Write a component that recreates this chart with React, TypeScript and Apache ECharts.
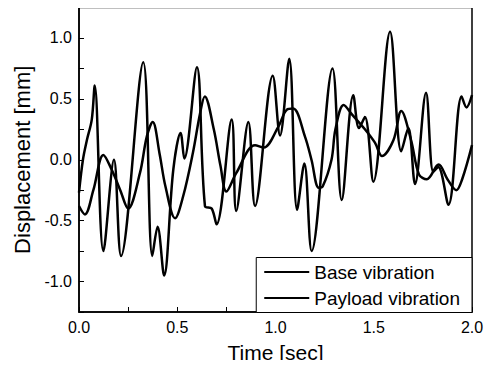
import React, { useEffect, useRef } from "react";
import * as echarts from "echarts";

const seriesNames = ["Base vibration", "Payload vibration"];

const baseTime = [
  0.0, 0.02, 0.04, 0.065, 0.08, 0.124, 0.178, 0.214, 0.327, 0.373, 0.4, 0.433,
  0.48, 0.517, 0.536, 0.6, 0.641, 0.675, 0.7, 0.777, 0.8, 0.862, 0.896, 0.986,
  1.023, 1.07, 1.11, 1.147, 1.184, 1.29, 1.337, 1.396, 1.425, 1.455, 1.498,
  1.583, 1.64, 1.676, 1.71, 1.766, 1.803, 1.828, 1.88, 1.947, 1.972, 2.0,
];
const baseValue = [
  -0.27, 0.0, 0.16, 0.33, 0.61, -0.75, 0.0, -0.79, 0.8, -0.79, -0.55, -0.95,
  -0.08, 0.22, 0.01, 0.76, -0.38, -0.4, -0.53, 0.33, -0.42, 0.31, -0.38, 0.69,
  0.2, 0.83, -0.41, -0.03, -0.75, 0.75, -0.33, 0.53, 0.26, 0.35, -0.18,
  1.05, 0.07, 0.26, -0.2, 0.55, -0.1, -0.06, -0.37, 0.52, 0.43, 0.53,
];

const payloadTime = [
  0.0, 0.03, 0.073, 0.124, 0.166, 0.21, 0.25, 0.31, 0.345, 0.375, 0.41, 0.44,
  0.489, 0.53, 0.58, 0.616, 0.64, 0.686, 0.72, 0.75, 0.8, 0.896, 0.94, 1.014,
  1.057, 1.09, 1.15, 1.183, 1.22, 1.24, 1.285, 1.305, 1.347, 1.39, 1.455,
  1.506, 1.542, 1.6, 1.64, 1.69, 1.73, 1.77, 1.83, 1.875, 1.92, 1.95, 2.0,
];
const payloadValue = [
  -0.38, -0.45, -0.25, 0.04, -0.08, -0.25, -0.4, -0.11, 0.19, 0.31, 0.05, -0.22,
  -0.48, -0.3, 0.06, 0.38, 0.52, 0.25, -0.05, -0.26, -0.11, 0.12, 0.1, 0.27,
  0.41, 0.42, 0.19, 0.0, -0.23, -0.22, 0.0, 0.25, 0.45, 0.37, 0.25,
  0.14, 0.03, 0.16, 0.4, 0.16, -0.12, -0.16, -0.04, -0.16, -0.25, -0.16, 0.12,
];

const xTicksMin = 0;
const xTicksMax = 2;
const yTicksMin = -1.25;
const yTicksMax = 1.25;

const FONT = "Liberation Sans, Arial, Helvetica, sans-serif";

const isHalf = (v: number) => Math.abs(v * 2 - Math.round(v * 2)) < 1e-6;

export default function App() {
  const ref = useRef<HTMLDivElement>(null);
  useEffect(() => {
    if (!ref.current) return;
    const chart = echarts.init(ref.current, null, { renderer: "svg" });
    const pair = (t: number[], v: number[]) => t.map((x, i) => [x, v[i]]);
    chart.setOption({
      animation: false,
      backgroundColor: "#fff",
      grid: {
        left: 79,
        right: 20,
        top: 7.5,
        bottom: 55.5,
        show: true,
        borderColor: "#000",
        borderWidth: 1.5,
      },
      legend: {
        orient: "vertical",
        right: 20,
        bottom: 55.5,
        backgroundColor: "#fff",
        borderColor: "#000",
        borderWidth: 1,
        padding: [5, 12, 5, 8],
        itemGap: 7,
        itemWidth: 45,
        itemHeight: 14,
        icon: "path://M0,6 L45,6 L45,8 L0,8 Z",
        textStyle: { fontFamily: FONT, fontSize: 19, color: "#000", padding: [0, 0, 0, 0] },
        itemStyle: { color: "#000" },
        data: seriesNames,
      },
      xAxis: {
        type: "value",
        min: xTicksMin,
        max: xTicksMax,
        interval: 0.25,
        name: "Time [sec]",
        nameLocation: "middle",
        nameGap: 30,
        nameTextStyle: { fontFamily: FONT, fontSize: 21, color: "#000" },
        axisLine: { onZero: false, lineStyle: { color: "#000", width: 1.5 } },
        axisTick: { inside: true, length: 5, lineStyle: { color: "#000", width: 1 } },
        axisLabel: {
          fontFamily: FONT,
          fontSize: 16,
          color: "#000",
          margin: 7,
          formatter: (v: number) => (isHalf(v) ? v.toFixed(1) : ""),
        },
        splitLine: { show: false },
      },
      yAxis: {
        type: "value",
        min: yTicksMin,
        max: yTicksMax,
        interval: 0.25,
        name: "Displacement [mm]",
        nameLocation: "middle",
        nameGap: 44,
        nameTextStyle: { fontFamily: FONT, fontSize: 22, color: "#000" },
        axisLine: { onZero: false, lineStyle: { color: "#000", width: 1.5 } },
        axisTick: { inside: true, length: 5, lineStyle: { color: "#000", width: 1 } },
        axisLabel: {
          fontFamily: FONT,
          fontSize: 16,
          color: "#000",
          margin: 7,
          formatter: (v: number) => (isHalf(v) && Math.abs(v) <= 1.0001 ? v.toFixed(1) : ""),
        },
        splitLine: { show: false },
      },
      series: [
        {
          name: seriesNames[0],
          type: "line",
          data: pair(baseTime, baseValue),
          smooth: 0.35,
          symbol: "none",
          lineStyle: { color: "#000", width: 2.5 },
          itemStyle: { color: "#000" },
        },
        {
          name: seriesNames[1],
          type: "line",
          data: pair(payloadTime, payloadValue),
          smooth: 0.35,
          symbol: "none",
          lineStyle: { color: "#000", width: 2.5 },
          itemStyle: { color: "#000" },
        },
      ],
    });
    return () => chart.dispose();
  }, []);
  return <div ref={ref} style={{ width: 492, height: 368, margin: -8 }} />;
}
